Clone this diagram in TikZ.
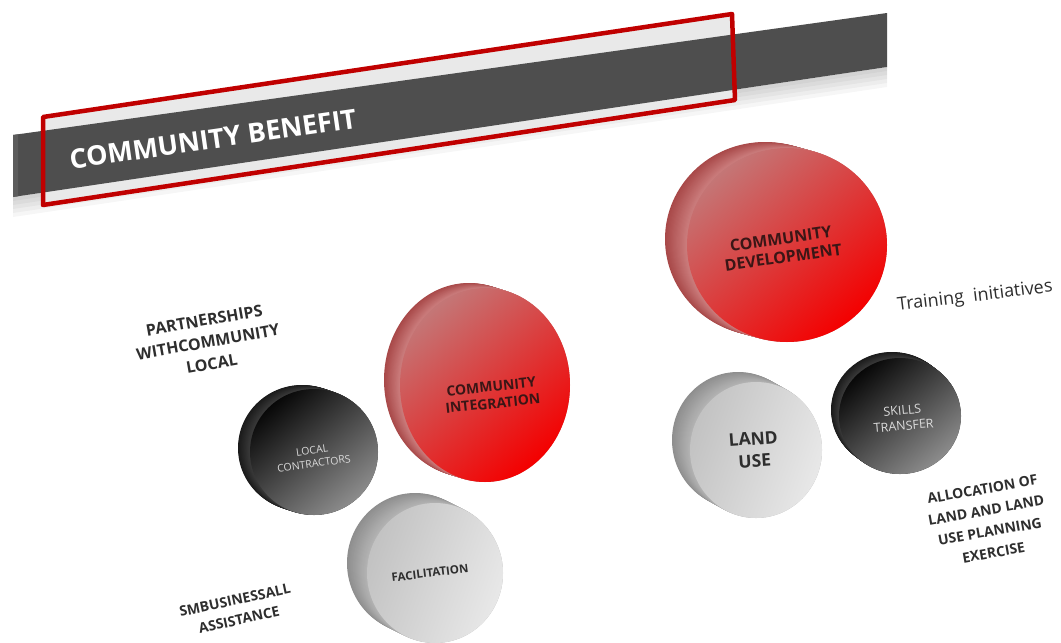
\documentclass[tikz,border=0pt]{standalone}
\usepackage{fontspec}
\setmainfont{Open Sans}
\usetikzlibrary{calc}
\definecolor{bargray}{HTML}{4E4E4E}
\definecolor{barend}{HTML}{5C5C5C}
\definecolor{framered}{HTML}{C00000}
\definecolor{plate}{HTML}{E9E9E9}
\definecolor{textdark}{HTML}{2E2E2E}
\definecolor{textred}{HTML}{3A1616}
\definecolor{textlight}{HTML}{DADADA}
% red discs
\definecolor{redsideA}{HTML}{A84848}
\definecolor{redsideB}{HTML}{CC7E7E}
\definecolor{redtop}{HTML}{C47676}
\definecolor{redbot}{HTML}{F40000}
% black discs
\definecolor{blksideA}{HTML}{1A1A1A}
\definecolor{blksideB}{HTML}{3A3A3A}
\definecolor{blktop}{HTML}{080808}
\definecolor{blkbot}{HTML}{8C8C8C}
% silver discs
\definecolor{silsideA}{HTML}{8E8E8E}
\definecolor{silsideB}{HTML}{B4B4B4}
\definecolor{siltop}{HTML}{C2C2C2}
\definecolor{silbot}{HTML}{E8E8E8}
\tikzset{
  redfront/.style={top color=redtop, bottom color=redbot, shading angle=40},
  blkfront/.style={top color=blktop, bottom color=blkbot, shading angle=40},
  silfront/.style={top color=siltop, bottom color=silbot, shading angle=70},
  lbl/.style={font=\bfseries, text=textdark, align=center, inner sep=0pt},
}
% #1 name, #2 cx, #3 cy, #4 rx, #5 ry, #6 rot, #7 dx, #8 dy, #9 type
\newcommand\mydisc[9]{%
  \foreach \k in {0,...,20}{%
    \pgfmathsetmacro\tt{1-\k/20}%
    \pgfmathtruncatemacro\pp{100*\k/20}%
    \begin{scope}[shift={(#2+\tt*#7,#3+\tt*#8)}, rotate=#6]
      \fill[#9sideB!\pp!#9sideA] (0,0) ellipse[x radius=#4pt, y radius=#5pt];
    \end{scope}
  }%
  \begin{scope}[shift={(#2,#3)}, rotate=#6]
    \shade[#9front] (0,0) ellipse[x radius=#4pt, y radius=#5pt];
  \end{scope}
  \coordinate (#1) at (#2,#3);
}
\begin{document}
\begin{tikzpicture}[x=1pt,y=-1pt]
\useasboundingbox (0,0) rectangle (1061,643);
\fill[white] (0,0) rectangle (1061,643);

% ---- banner shadow ----
\foreach \s in {4,8,12,16,20}{
  \fill[black, opacity=0.035] (13,197) -- (887,67) -- (887,67+\s) -- (13,197+\s) -- cycle;
}
% ---- frame plate ----
\fill[plate] (43,117) -- (732,14) -- (735,100) -- (43,205) -- cycle;
% ---- bar ----
\fill[bargray] (13,135) -- (887,13) -- (887,67) -- (13,197) -- cycle;
\fill[barend] (13,135) -- (18,134.3) -- (18,196.3) -- (13,197) -- cycle;
% ---- frame ----
\draw[framered, line width=4.5pt, line join=round] (43,117) -- (732,14) -- (735,100) -- (43,205) -- cycle;
\node[rotate=8.2, text=white, font=\bfseries\fontsize{27}{30}\selectfont, inner sep=0pt] (title) at (213,139) {COMMUNITY BENEFIT};

% ---- discs ----
\mydisc{cd}{787}{245}{100}{97}{0}{-22}{-6}{red}
\mydisc{ci}{485}{385}{85}{97}{0}{-16}{-5}{red}
\mydisc{lc}{314}{452}{64}{63}{0}{-12}{-4}{blk}
\mydisc{fa}{435}{573}{68}{70}{0}{-20}{-10}{sil}
\mydisc{lu}{756}{450}{66}{68}{0}{-18}{-10}{sil}
\mydisc{st}{900}{416}{61}{58}{0}{-8}{-6}{blk}

% ---- disc labels ----
\node[lbl, text=textred, rotate=8, font=\bfseries\fontsize{16}{19}\selectfont] (cdt) at (782,248) {COMMUNITY\\DEVELOPMENT};
\node[lbl, text=textred, rotate=6, font=\bfseries\fontsize{14}{17}\selectfont] (cit) at (492,395) {COMMUNITY\\INTEGRATION};
\node[lbl, text=textlight, rotate=8, font=\fontsize{10.5}{13.5}\selectfont] (lct) at (313,457) {LOCAL\\CONTRACTORS};
\node[lbl, rotate=7, font=\bfseries\fontsize{11.5}{13}\selectfont] (fat) at (430,573) {FACILITATION};
\node[lbl, rotate=4, font=\bfseries\fontsize{17.5}{22.5}\selectfont] (lut) at (754,450) {LAND\\USE};
\node[lbl, text=textlight, rotate=5, font=\fontsize{12.5}{15.5}\selectfont] (stt) at (903,418) {SKILLS\\TRANSFER};

% ---- free texts ----
\node[lbl, rotate=10, font=\bfseries\fontsize{16}{22}\selectfont] (pcl) at (208,342) {PARTNERSHIPS\\WITHCOMMUNITY\\LOCAL};
\node[lbl, rotate=12, font=\bfseries\fontsize{14}{20}\selectfont] (sba) at (237,610) {SMBUSINESSALL\\ASSISTANCE};
\node[lbl, rotate=7, font=\fontsize{18}{22}\selectfont] (ti) at (975,297) {Training\ \ initiatives};
\node[lbl, rotate=10, font=\bfseries\fontsize{14}{21.5}\selectfont] (alloc) at (988,521) {ALLOCATION OF\\LAND AND LAND\\USE PLANNING\\EXERCISE};
\end{tikzpicture}
\end{document}
